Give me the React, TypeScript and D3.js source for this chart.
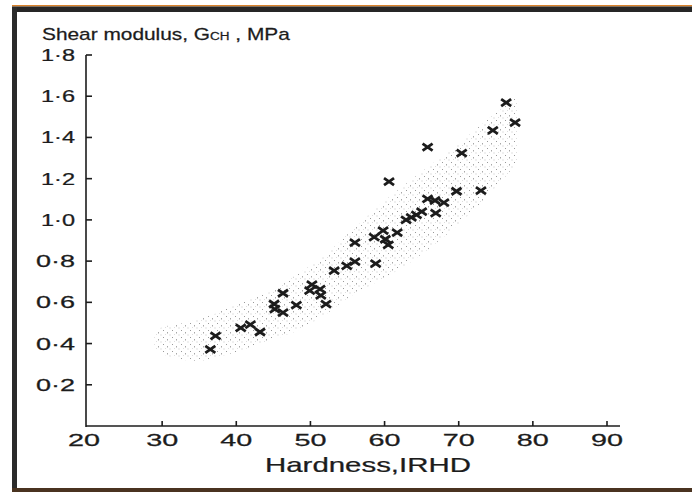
import React, { useRef, useLayoutEffect, useState } from "react";
import * as d3 from "d3";

// Scatter data: hardness (IRHD) vs shear modulus G_CH (MPa)
const hardness = [
  36.5, 37.2, 40.6, 41.9, 43.2, 45.1, 45.2, 46.3, 46.3, 48.1,
  50.2, 49.9, 51.3, 51.4, 52.1, 53.2, 54.9, 56.0, 58.8, 56.0,
  58.6, 59.8, 60.1, 60.5, 61.7, 60.6, 62.9, 63.6, 64.3, 65.0,
  66.9, 65.8, 66.8, 68.0, 65.8, 69.7, 73.0, 70.4, 74.6, 76.4, 77.6,
];
const modulus = [
  0.372, 0.437, 0.476, 0.492, 0.456, 0.592, 0.567, 0.55, 0.644, 0.586,
  0.686, 0.657, 0.664, 0.634, 0.591, 0.754, 0.777, 0.798, 0.788, 0.89,
  0.916, 0.948, 0.906, 0.879, 0.938, 1.186, 1.0, 1.012, 1.024, 1.04,
  1.033, 1.102, 1.094, 1.084, 1.353, 1.139, 1.142, 1.324, 1.434, 1.569, 1.472,
];

// Stippled band (scatter envelope)
const bandHardness = [29, 30, 33, 36, 40, 45, 48, 52, 55, 58, 62, 66, 70, 74, 78];
const bandUpper = [0.46, 0.48, 0.5, 0.53, 0.59, 0.66, 0.73, 0.83, 0.93, 1.03, 1.15, 1.26, 1.37, 1.49, 1.6];
const bandLower = [0.38, 0.35, 0.32, 0.32, 0.36, 0.42, 0.46, 0.54, 0.62, 0.68, 0.76, 0.86, 0.98, 1.12, 1.28];

const xTicks = [20, 30, 40, 50, 60, 70, 80, 90];
const yTicks = [0.2, 0.4, 0.6, 0.8, 1.0, 1.2, 1.4, 1.6, 1.8];
const yTickLabels = ["0·2", "0·4", "0·6", "0·8", "1·0", "1·2", "1·4", "1·6", "1·8"];

const FONT = "'Liberation Sans', Arial, Helvetica, sans-serif";
const INK = "#1c1c1c";

function SText({ x, y, width, anchor = "start", fontSize, children }: any) {
  const ref = useRef<SVGTextElement>(null);
  const [sx, setSx] = useState(1);
  useLayoutEffect(() => {
    if (ref.current) {
      const w = ref.current.getComputedTextLength();
      if (w > 0) setSx(width / w);
    }
  }, [width]);
  const left = anchor === "start" ? x : anchor === "middle" ? x - width / 2 : x - width;
  return (
    <text
      ref={ref}
      transform={`translate(${left},${y}) scale(${sx},1)`}
      fontFamily={FONT}
      fontSize={fontSize}
      fill={INK}
      stroke={INK}
      strokeWidth={0.25}
    >
      {children}
    </text>
  );
}

export default function App() {
  const x = d3.scaleLinear().domain([20, 90]).range([88, 607]);
  const y = d3.scaleLinear().domain([0, 1.8]).range([426, 55]);

  const bandData = bandHardness.map((h, i) => ({ h, lo: bandLower[i], hi: bandUpper[i] }));
  const area = d3
    .area<any>()
    .x((d) => x(d.h))
    .y0((d) => y(d.lo))
    .y1((d) => y(d.hi))
    .curve(d3.curveCatmullRom);

  const axisX0 = 86;
  const axisY0 = y(0);

  return (
    <svg
      width={692}
      height={492}
      style={{ position: "absolute", left: 0, top: 0, background: "#fff" }}
    >
      <defs>
        <pattern id="stip" width="9" height="7" patternUnits="userSpaceOnUse">
          <rect x="1" y="1" width="1" height="1" fill="#9a9a9a" />
          <rect x="5" y="3" width="1" height="1.5" fill="#a8a8a8" />
          <rect x="7.5" y="5.5" width="1" height="1" fill="#c4c4c4" />
          <rect x="3" y="5" width="0.8" height="0.8" fill="#cccccc" />
        </pattern>
      </defs>
      <rect x={0} y={0} width={692} height={492} fill="#fff" />

      {/* frame */}
      <rect x={12} y={5} width={680} height={1.5} fill="#d9822b" />
      <rect x={12} y={6.5} width={680} height={5.5} fill="#262626" />
      <rect x={12} y={7} width={5} height={485} fill="#2b2b2b" />
      <rect x={12} y={488} width={680} height={4} fill="#4a3320" />

      {/* band */}
      <path d={area(bandData) || ""} fill="url(#stip)" />

      {/* axes */}
      <line x1={axisX0} x2={axisX0} y1={axisY0 + 1} y2={y(1.8)} stroke={INK} strokeWidth={1.6} />
      <line x1={axisX0} x2={620} y1={axisY0} y2={axisY0} stroke={INK} strokeWidth={1.6} />
      {yTicks.map((t, i) => (
        <g key={"y" + t}>
          <line x1={axisX0} x2={axisX0 + 6} y1={y(t)} y2={y(t)} stroke={INK} strokeWidth={1.6} />
          <SText x={75} y={y(t) + 6} width={yTickLabels[i].startsWith("1") ? 34 : 39} anchor="end" fontSize={16}>
            {yTickLabels[i]}
          </SText>
        </g>
      ))}
      {xTicks.map((t) => (
        <g key={"x" + t}>
          {t > 20 && (
            <line x1={x(t)} x2={x(t)} y1={axisY0} y2={axisY0 - 5} stroke={INK} strokeWidth={1.6} />
          )}
          <SText x={t === 20 ? x(t) - 4 : x(t)} y={446} width={32} anchor="middle" fontSize={16}>
            {String(t)}
          </SText>
        </g>
      ))}

      {/* titles */}
      <SText x={42} y={40} width={248} fontSize={17}>
        Shear modulus, G<tspan fontSize={11}>CH</tspan> , MPa
      </SText>
      <SText x={368} y={472} width={206} anchor="middle" fontSize={20}>
        Hardness,IRHD
      </SText>

      {/* points */}
      {hardness.map((h, i) => {
        const cx = x(h);
        const cy = y(modulus[i]);
        const w = 5;
        const hh = 3.5;
        return (
          <path
            key={i}
            d={`M${cx - w},${cy - hh}L${cx + w},${cy + hh}M${cx - w},${cy + hh}L${cx + w},${cy - hh}`}
            stroke={INK}
            strokeWidth={2.8}
            fill="none"
          />
        );
      })}
    </svg>
  );
}
